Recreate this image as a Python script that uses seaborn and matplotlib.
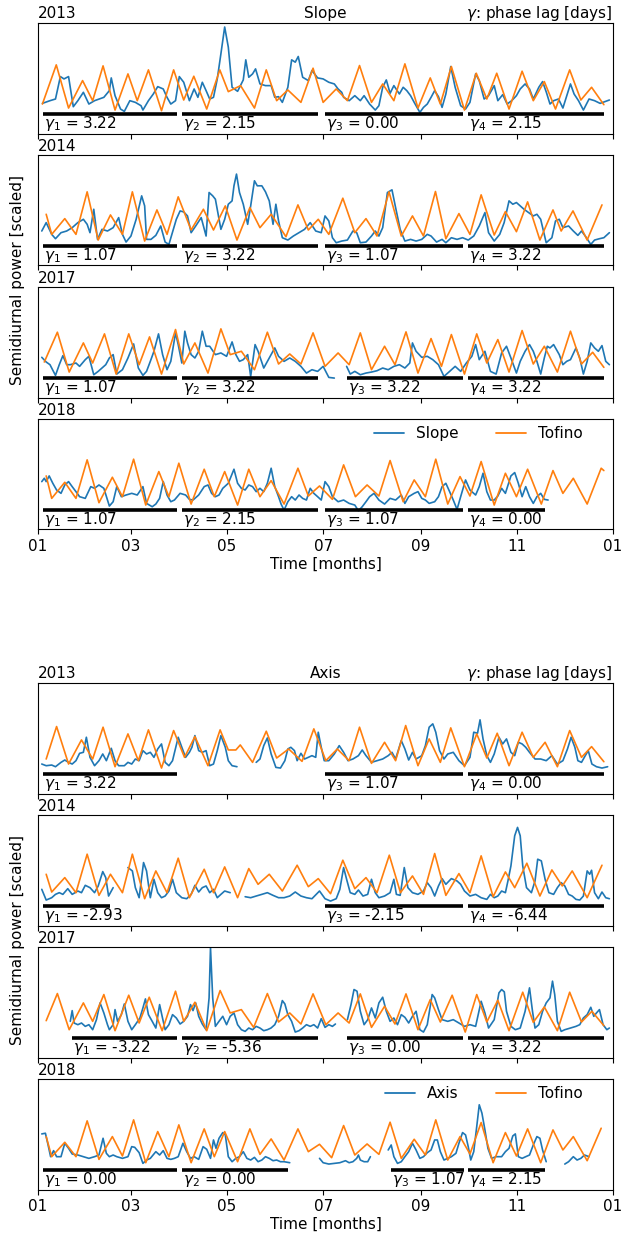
import numpy as np
import pandas as pd
import matplotlib
matplotlib.use("Agg")
import matplotlib.pyplot as plt
from matplotlib.lines import Line2D
import seaborn as sns

sns.set_style("ticks")
plt.rcParams.update({
    "font.family": ["DejaVu Sans"],
    "font.size": 11,
    "axes.edgecolor": "black",
    "axes.linewidth": 0.8,
    "xtick.color": "black",
    "xtick.direction": "out",
    "xtick.major.size": 3.5,
    "xtick.major.width": 0.8,
    "xtick.labelsize": 11,
    "text.color": "black",
    "axes.labelcolor": "black",
    "lines.solid_joinstyle": "round",
})

BLUE = "#1f77b4"
ORANGE = "#ff7f0e"

month_ticks = [0, 59, 120, 181, 243, 304, 365]
month_labels = ["01", "03", "05", "07", "09", "11", "01"]

# ---------------- Slope 2013 ----------------
slope2013_tofino_day = [2.8, 11.6, 19.4, 28.3, 34.7, 41.3, 48.9, 57.1, 63.0, 70.1, 78.4, 86.1, 92.5, 98.9, 107.1, 115.4, 120.8, 128.6, 137.4, 144.9, 151.5, 158.6, 166.9, 174.6, 181.0, 189.3, 196.4, 204.1, 211.7, 218.8, 225.9, 232.9, 241.2, 249.0, 255.4, 262.4, 270.7, 278.2, 284.9, 291.2, 299.0, 307.3, 314.4, 321.4, 328.5, 337.5, 344.6, 351.4, 359.2]
slope2013_tofino_val = [88, 205, 76, 158, 98, 202, 70, 178, 98, 190, 68, 190, 100, 171, 73, 190, 125, 143, 76, 190, 98, 130, 93, 195, 93, 133, 98, 203, 93, 148, 98, 208, 76, 166, 88, 200, 70, 180, 103, 180, 73, 186, 98, 155, 73, 190, 100, 138, 86]
slope2013_site_day = [2.8, 7.6, 11.1, 14.2, 16.5, 19.4, 22.4, 25.3, 28.8, 32.3, 35.9, 41.8, 45.3, 46.5, 48.9, 52.4, 54.8, 58.3, 61.8, 65.4, 66.6, 70.1, 73.2, 76.0, 79.5, 81.9, 84.3, 87.3, 89.7, 92.5, 96.1, 99.1, 101.5, 104.3, 106.7, 109.0, 111.4, 113.8, 116.1, 118.5, 120.8, 123.2, 126.7, 130.3, 131.9, 133.8, 136.2, 138.1, 140.9, 144.4, 148.0, 150.3, 152.7, 155.1, 158.6, 161.0, 163.3, 165.2, 168.0, 171.6, 173.9, 177.5, 181.0, 184.6, 188.1, 190.5, 192.8, 194.0, 197.5, 201.1, 204.6, 207.0, 210.5, 214.1, 216.4, 218.8, 221.1, 223.5, 225.9, 229.4, 231.8, 234.1, 236.5, 238.8, 242.4, 244.7, 247.1, 249.5, 251.8, 254.2, 256.5, 258.9, 262.0, 264.8, 268.3, 271.4, 274.2, 277.8, 280.1, 283.2, 286.0, 289.6, 291.9, 295.0, 297.8, 300.7, 303.7, 306.1, 309.2, 312.0, 314.4, 317.9, 320.3, 322.7, 325.0, 327.3, 330.4, 333.2, 338.0, 340.3, 343.1, 346.2, 349.8, 353.3, 356.8, 362.7]
slope2013_site_val = [90, 98, 103, 170, 163, 170, 80, 98, 123, 88, 98, 108, 128, 166, 113, 73, 66, 98, 93, 83, 70, 98, 118, 140, 133, 108, 88, 98, 170, 153, 98, 133, 108, 153, 128, 103, 108, 163, 238, 318, 258, 138, 126, 160, 220, 168, 178, 193, 148, 143, 143, 108, 110, 93, 138, 220, 213, 230, 168, 158, 188, 166, 163, 153, 148, 133, 123, 108, 98, 113, 98, 113, 88, 70, 83, 138, 160, 120, 143, 118, 138, 128, 113, 93, 63, 78, 88, 108, 128, 110, 78, 118, 200, 138, 83, 73, 93, 178, 158, 103, 113, 143, 98, 116, 88, 98, 113, 133, 148, 133, 103, 138, 155, 123, 88, 98, 103, 76, 148, 118, 98, 70, 103, 98, 90, 100]

# ---------------- Slope 2014 ----------------
slope2014_tofino_day = [5.2, 8.7, 17.0, 24.1, 31.2, 38.2, 46.0, 53.6, 59.9, 67.7, 75.5, 81.9, 89.0, 97.2, 105.0, 111.4, 118.9, 126.3, 134.5, 140.9, 148.0, 157.4, 165.0, 171.6, 177.9, 184.6, 193.5, 201.1, 208.2, 215.2, 222.8, 230.6, 237.7, 244.7, 252.3, 258.9, 267.2, 274.2, 281.3, 289.6, 296.7, 303.7, 310.8, 318.6, 326.9, 332.1, 339.6, 348.6, 358.0]
slope2014_tofino_val = [153, 93, 140, 93, 220, 76, 151, 93, 220, 73, 166, 93, 205, 106, 168, 106, 178, 76, 173, 113, 153, 86, 181, 106, 138, 93, 201, 98, 140, 88, 220, 88, 148, 88, 221, 80, 155, 93, 211, 91, 161, 101, 190, 76, 166, 103, 163, 76, 181]
slope2014_site_day = [2.4, 5.2, 8.7, 11.1, 14.6, 18.2, 21.7, 25.3, 28.8, 31.2, 33.0, 35.4, 37.8, 40.6, 44.1, 47.7, 51.2, 53.6, 55.9, 59.0, 62.3, 65.8, 67.7, 68.9, 71.7, 74.8, 77.9, 80.7, 83.1, 85.9, 87.8, 90.2, 92.5, 94.9, 97.2, 100.1, 103.6, 106.7, 108.6, 110.9, 112.6, 114.9, 116.1, 118.5, 120.8, 123.2, 124.4, 126.0, 127.9, 130.3, 133.1, 135.0, 137.4, 139.2, 142.1, 144.4, 146.8, 149.2, 151.0, 152.7, 155.1, 158.6, 162.1, 165.7, 169.2, 172.8, 176.3, 179.8, 182.2, 184.6, 186.9, 189.3, 192.8, 196.4, 199.9, 202.3, 204.6, 208.2, 211.7, 214.1, 216.4, 218.8, 221.8, 224.7, 227.0, 229.9, 232.9, 236.5, 240.0, 243.6, 247.1, 249.5, 253.0, 256.5, 258.9, 262.4, 266.0, 269.5, 273.1, 276.6, 280.1, 283.7, 286.0, 289.6, 293.1, 295.9, 299.0, 301.4, 303.7, 306.1, 308.5, 311.5, 314.4, 316.7, 319.1, 322.6, 326.2, 328.5, 330.9, 333.2, 336.8, 339.8, 342.7, 345.0, 347.4, 350.9, 353.3, 356.4, 359.2, 362.7]
slope2014_site_val = [103, 128, 93, 80, 98, 103, 113, 128, 138, 123, 98, 168, 78, 108, 103, 113, 143, 93, 70, 88, 138, 208, 178, 78, 78, 90, 118, 70, 63, 108, 138, 163, 160, 148, 98, 118, 143, 88, 218, 208, 198, 138, 108, 138, 183, 193, 238, 273, 218, 183, 123, 178, 253, 238, 238, 220, 193, 123, 183, 133, 83, 76, 88, 98, 108, 128, 103, 98, 148, 133, 83, 68, 73, 76, 103, 98, 68, 70, 88, 103, 88, 113, 218, 226, 173, 108, 73, 78, 73, 78, 93, 88, 70, 78, 68, 83, 78, 83, 76, 88, 118, 158, 98, 73, 93, 128, 193, 183, 188, 178, 168, 158, 148, 153, 138, 68, 83, 133, 138, 113, 118, 103, 90, 103, 88, 63, 76, 80, 83, 98]

# ---------------- Slope 2017 ----------------
slope2017_tofino_day = [4.0, 12.3, 19.8, 28.8, 34.7, 42.2, 49.6, 57.6, 64.2, 70.8, 78.4, 87.3, 92.5, 99.6, 107.9, 116.1, 122.0, 129.1, 137.4, 145.6, 152.7, 159.8, 166.9, 174.6, 182.2, 190.5, 197.5, 204.6, 211.7, 220.0, 226.6, 233.6, 241.2, 249.5, 256.1, 262.4, 270.7, 278.5, 284.9, 291.9, 299.0, 307.3, 314.4, 321.4, 329.7, 338.0, 345.0, 352.1, 359.2]
slope2017_tofino_val = [106, 195, 76, 163, 103, 190, 70, 190, 98, 181, 70, 203, 100, 163, 73, 205, 128, 138, 83, 195, 100, 130, 100, 193, 93, 133, 98, 193, 83, 153, 98, 196, 73, 176, 93, 188, 70, 190, 103, 173, 76, 200, 100, 153, 76, 198, 100, 135, 90]
slope2017_site_day = [2.4, 5.2, 7.6, 11.1, 13.5, 15.8, 18.2, 20.5, 24.1, 26.4, 30.0, 32.3, 35.4, 38.2, 40.6, 43.0, 45.3, 47.7, 50.0, 53.6, 57.1, 60.7, 63.7, 66.6, 68.9, 71.3, 73.6, 76.5, 79.1, 81.9, 84.3, 87.3, 89.0, 91.3, 93.2, 94.9, 97.2, 99.6, 102.0, 104.3, 106.7, 109.0, 112.6, 116.1, 119.7, 123.2, 125.6, 127.9, 130.3, 133.1, 135.0, 137.8, 139.7, 143.3, 146.8, 150.3, 152.7, 156.2, 159.8, 163.3, 166.9, 170.4, 173.9, 177.5, 181.0, 184.6, 188.1, None,
                      195.9, 198.2, 201.1, 204.6, 208.2, 211.7, 215.2, 218.8, 222.3, 225.9, 229.4, 232.9, 236.0, 237.7, 240.0, 243.6, 247.1, 250.6, 254.2, 257.7, 261.3, 264.8, 268.3, 271.9, 275.4, 277.8, 280.1, 283.7, 287.2, 290.8, 294.3, 297.4, 300.2, 303.7, 306.1, 309.2, 312.0, 314.4, 316.7, 319.1, 321.4, 323.3, 325.0, 327.3, 330.9, 333.2, 335.6, 338.0, 341.5, 343.9, 346.2, 348.6, 350.9, 353.3, 355.7, 358.0, 360.4, 362.7]
slope2017_site_val = [120, 106, 98, 66, 98, 125, 98, 98, 103, 93, 113, 123, 68, 78, 88, 98, 118, 128, 70, 83, 118, 160, 88, 66, 78, 108, 138, 190, 128, 83, 108, 193, 158, 103, 198, 163, 128, 118, 138, 198, 153, 153, 128, 133, 123, 166, 128, 108, 113, 128, 63, 158, 138, 88, 118, 148, 123, 108, 118, 108, 93, 73, 83, 78, 93, 60, 58, None,
                      93, 70, 78, 68, 73, 76, 80, 88, 83, 93, 98, 88, 103, 163, 138, 120, 123, 113, 98, 63, 78, 93, 78, 103, 123, 158, 113, 138, 78, 70, 133, 153, 118, 73, 108, 138, 158, 138, 108, 70, 118, 153, 148, 158, 128, 98, 108, 113, 148, 118, 70, 108, 163, 148, 138, 155, 108, 98]

# ---------------- Slope 2018 ----------------
slope2018_tofino_day = [5.2, 8.7, 17.0, 24.1, 31.2, 38.7, 47.2, 53.6, 60.7, 68.4, 76.7, 83.1, 89.4, 97.2, 105.5, 111.9, 118.5, 126.7, 133.8, 140.9, 148.0, 156.2, 165.0, 171.6, 178.7, 186.9, 194.0, 201.5, 208.9, 216.4, 223.5, 231.8, 238.8, 245.9, 252.5, 260.1, 267.9, 274.2, 281.3, 289.6, 296.7, 303.7, 310.8, 319.5, 326.9, 333.2, 339.8, 348.6, 357.5, 359.2]
slope2018_tofino_val = [160, 93, 141, 93, 208, 80, 156, 98, 210, 73, 173, 98, 198, 76, 180, 98, 173, 73, 180, 98, 146, 76, 183, 100, 130, 90, 193, 98, 133, 100, 206, 83, 148, 98, 210, 76, 158, 100, 203, 73, 168, 98, 180, 76, 176, 108, 153, 76, 183, 176]
slope2018_site_day = [2.4, 4.0, 5.2, 7.1, 9.4, 11.8, 14.6, 17.0, 19.4, 21.7, 24.1, 26.4, 30.0, 33.5, 35.9, 38.7, 41.8, 45.3, 47.7, 50.0, 52.9, 55.9, 59.5, 63.0, 66.6, 68.9, 72.5, 74.8, 77.2, 79.5, 81.9, 84.3, 86.6, 90.2, 93.7, 96.1, 98.4, 102.0, 105.5, 107.9, 110.2, 112.6, 114.9, 117.3, 120.8, 124.4, 126.7, 129.1, 131.5, 133.8, 136.2, 138.5, 140.9, 143.3, 145.6, 148.0, 150.3, 152.7, 154.3, 156.2, 158.6, 161.0, 163.3, 165.7, 168.0, 170.4, 172.8, 175.1, 177.5, 179.8, 182.2, 184.6, 186.9, 190.5, 194.0, 197.5, 201.1, 203.4, 205.8, 208.2, 210.5, 213.3, 216.4, 220.0, 223.5, 227.0, 230.6, 232.9, 235.3, 238.8, 241.2, 243.6, 245.9, 248.3, 251.8, 254.2, 256.5, 258.9, 261.3, 263.6, 266.0, 268.3, 271.4, 274.2, 277.8, 280.1, 282.5, 284.9, 287.2, 289.6, 291.9, 294.3, 296.7, 300.2, 302.6, 304.9, 307.3, 309.6, 312.0, 314.4, 316.7, 319.1, 321.4, 323.8]
slope2018_site_val = [143, 153, 143, 160, 138, 118, 108, 133, 143, 128, 113, 98, 93, 128, 123, 133, 123, 70, 83, 128, 98, 103, 108, 103, 128, 78, 68, 76, 93, 143, 103, 83, 88, 108, 103, 90, 88, 103, 128, 133, 108, 98, 103, 123, 138, 180, 138, 123, 118, 133, 128, 113, 123, 113, 138, 183, 128, 98, 76, 58, 83, 98, 88, 103, 93, 88, 123, 108, 98, 88, 143, 128, 98, 83, 88, 78, 73, 56, 68, 83, 98, 108, 88, 76, 93, 88, 103, 78, 98, 108, 113, 93, 88, 78, 83, 98, 128, 138, 113, 88, 60, 98, 148, 118, 103, 128, 168, 113, 88, 88, 100, 123, 108, 160, 170, 138, 98, 128, 98, 78, 98, 108, 90, 88]

# ---------------- Axis 2013 ----------------
axis2013_tofino_day = [5.2, 11.8, 19.4, 27.6, 34.7, 41.3, 48.9, 57.1, 63.7, 70.1, 78.4, 86.1, 93.0, 99.6, 107.9, 115.6, 120.8, 125.6, 128.4, 136.2, 144.9, 151.5, 159.1, 167.6, 175.1, 182.7, 190.0, 197.5, 204.1, 211.7, 220.0, 227.0, 233.4, 241.2, 248.3, 255.4, 262.0, 270.7, 278.5, 284.9, 291.5, 299.0, 307.3, 314.4, 321.9, 329.7, 337.5, 345.0, 351.4, 359.2]
axis2013_tofino_val = [103, 200, 88, 160, 103, 198, 80, 178, 98, 190, 76, 188, 108, 170, 83, 190, 130, 130, 145, 93, 186, 106, 133, 96, 193, 98, 133, 98, 198, 90, 153, 98, 203, 83, 163, 93, 196, 80, 178, 106, 180, 83, 183, 108, 153, 80, 188, 108, 140, 95]
axis2013_site_day = [2.4, 5.2, 8.7, 11.1, 14.6, 17.0, 19.4, 21.7, 24.1, 26.4, 28.8, 30.7, 33.0, 35.9, 38.7, 41.1, 43.4, 46.5, 48.9, 51.2, 54.8, 57.1, 59.5, 61.8, 64.2, 66.6, 68.9, 71.3, 73.6, 76.0, 78.4, 80.7, 83.1, 85.4, 89.0, 91.3, 93.7, 96.1, 97.7, 99.6, 102.0, 104.3, 106.7, 109.0, 111.4, 113.8, 116.1, 118.9, 120.8, 123.2, 126.3, None,
                     138.5, 140.9, 143.3, 145.6, 148.0, 151.0, 153.9, 156.7, 158.6, 160.5, 162.8, 164.5, 166.9, 169.2, 171.6, 173.9, 176.3, 177.9, 179.8, 181.7, 184.6, 188.1, 191.2, 194.0, 196.8, 199.9, 203.4, 205.8, 208.2, 211.7, 215.2, 218.8, 222.3, 224.7, 227.0, 230.6, 232.9, 235.3, 237.7, 240.0, 243.6, 245.9, 248.3, 250.6, 252.5, 254.9, 257.7, 260.1, 263.6, 267.2, 270.7, 274.2, 276.6, 279.0, 280.6, 282.5, 284.9, 287.2, 289.6, 292.6, 295.0, 297.4, 300.2, 302.6, 304.9, 307.3, 309.6, 312.0, 315.5, 319.1, 322.6, 326.2, 329.7, 333.2, 336.1, 338.4, 340.8, 342.7, 345.0, 347.4, 349.3, 351.6, 354.5, 358.0, 361.6]
axis2013_site_val = [88, 83, 85, 80, 93, 100, 93, 88, 98, 120, 123, 168, 108, 83, 98, 118, 98, 135, 98, 83, 83, 93, 88, 103, 98, 128, 118, 123, 108, 133, 148, 93, 83, 98, 168, 138, 108, 123, 138, 173, 128, 123, 128, 83, 88, 128, 173, 138, 98, 83, 80, None,
                     93, 103, 143, 166, 118, 78, 76, 98, 133, 138, 128, 98, 120, 103, 108, 113, 108, 183, 138, 98, 98, 118, 143, 123, 98, 103, 113, 130, 113, 93, 98, 103, 113, 123, 103, 158, 133, 100, 123, 103, 113, 143, 198, 208, 183, 128, 103, 118, 123, 98, 83, 108, 183, 180, 220, 163, 113, 93, 118, 168, 148, 163, 123, 113, 153, 148, 138, 123, 103, 103, 98, 113, 88, 98, 133, 168, 138, 98, 93, 113, 128, 88, 80, 76, 80]

# ---------------- Axis 2014 ----------------
axis2014_tofino_day = [5.2, 8.7, 17.0, 24.1, 31.2, 38.7, 46.0, 53.6, 59.9, 67.7, 74.8, 81.9, 89.0, 96.1, 105.5, 111.4, 118.5, 126.7, 133.8, 139.7, 146.8, 155.1, 164.5, 171.6, 177.9, 185.7, 193.5, 201.1, 208.2, 215.2, 223.0, 230.1, 237.7, 244.7, 251.8, 258.9, 267.2, 274.2, 281.3, 288.9, 296.7, 302.6, 310.3, 318.6, 326.2, 332.8, 339.1, 348.6, 358.0]
axis2014_tofino_val = [153, 100, 143, 98, 213, 90, 153, 98, 213, 80, 163, 98, 201, 83, 168, 98, 175, 83, 170, 123, 153, 103, 180, 116, 140, 95, 195, 110, 143, 98, 210, 98, 148, 93, 215, 90, 155, 98, 208, 86, 160, 113, 186, 88, 166, 118, 163, 83, 180]
axis2014_site_day = [2.4, 5.2, 8.7, 11.1, 13.5, 15.8, 18.9, 21.7, 25.3, 27.6, 30.0, 33.0, 35.9, 38.2, 41.1, 43.0, 44.8, 47.7, None,
                     57.1, 59.9, 61.8, 64.2, 67.0, 68.9, 71.3, 73.6, 76.0, 78.4, 80.7, 83.1, 85.4, 87.8, 91.3, 94.4, 97.2, 99.6, 102.0, 104.3, 106.7, 109.0, 111.4, 113.8, 116.1, 118.5, 122.0, None,
                     131.5, 135.0, 138.5, 142.1, 145.6, 149.2, 152.7, 156.2, 159.8, 163.3, 166.9, 170.4, 173.9, 178.7, 182.2, 185.7, 189.3, 191.6, 194.0, 195.9, 198.2, 201.1, 203.4, 206.3, 209.3, 211.7, 214.1, 216.4, 220.0, 223.5, 225.9, 227.5, 229.9, 232.5, 234.8, 237.7, 241.2, 244.7, 247.1, 249.5, 251.8, 254.2, 256.5, 258.9, 262.4, 266.0, 268.3, 270.7, 274.2, 277.8, 281.3, 284.9, 287.2, 289.6, 291.9, 294.3, 296.7, 298.3, 300.2, 302.6, 304.4, 306.1, 307.7, 310.1, 313.2, 315.5, 317.2, 319.5, 321.9, 324.3, 327.3, 329.7, 332.1, 334.4, 336.8, 339.1, 341.5, 343.9, 346.2, 348.6, 350.2, 351.4, 353.3, 355.7, 358.0, 360.4, 362.7]
axis2014_site_val = [108, 76, 83, 93, 98, 93, 110, 93, 103, 98, 120, 113, 98, 118, 161, 143, 88, 113, None,
                     173, 163, 113, 83, 188, 163, 83, 138, 98, 83, 88, 103, 138, 98, 83, 80, 93, 120, 100, 113, 118, 98, 108, 83, 93, 103, 98, None,
                     86, 83, 88, 93, 98, 90, 83, 83, 88, 100, 88, 83, 80, 103, 80, 73, 80, 108, 173, 138, 98, 93, 106, 88, 93, 138, 98, 83, 88, 98, 138, 93, 90, 173, 113, 98, 93, 103, 128, 113, 88, 118, 140, 123, 140, 133, 123, 103, 88, 93, 83, 78, 93, 83, 88, 103, 98, 133, 178, 268, 293, 268, 178, 113, 98, 133, 198, 193, 138, 98, 93, 113, 128, 118, 93, 88, 78, 76, 88, 163, 153, 165, 98, 80, 100, 83, 80]

# ---------------- Axis 2017 ----------------
axis2017_tofino_day = [5.2, 12.3, 19.8, 28.8, 34.7, 41.8, 48.9, 57.6, 64.2, 70.6, 78.8, 87.3, 92.5, 99.6, 107.1, 115.6, 122.0, 129.1, 136.9, 145.6, 152.7, 159.8, 166.9, 174.6, 182.7, 190.5, 197.5, 204.6, 211.7, 220.0, 226.6, 233.6, 241.2, 249.0, 255.4, 262.9, 271.2, 278.5, 284.9, 291.9, 299.0, 307.7, 314.4, 321.4, 329.7, 337.5, 345.0, 351.6, 359.2]
axis2017_tofino_val = [110, 191, 83, 163, 108, 188, 80, 186, 103, 180, 80, 198, 108, 165, 80, 200, 133, 143, 90, 191, 106, 133, 100, 190, 98, 133, 103, 190, 90, 153, 100, 190, 83, 173, 106, 186, 76, 188, 106, 171, 80, 195, 105, 151, 80, 195, 106, 138, 95]
axis2017_site_day = [20.5, 21.7, 22.9, 25.3, 27.6, 30.0, 32.3, 34.7, 37.1, 39.4, 41.8, 44.1, 45.3, 47.7, 48.9, 50.5, 52.9, 54.8, 57.1, 59.5, 61.8, 64.7, 66.6, 68.2, 70.1, 72.5, 74.8, 77.2, 78.8, 80.7, 83.1, 85.4, 87.8, 90.2, 92.5, 94.9, 96.8, 98.4, 100.1, 102.0, 104.3, 106.7, 108.6, 109.5, 110.9, 112.6, 114.9, 117.3, 119.7, 122.0, 124.4, 126.7, 129.1, 131.5, 133.8, 136.2, 138.5, 140.9, 143.3, 145.6, 147.9, 150.3, 152.7, 155.1, 156.7, 158.6, 161.0, 163.3, 165.7, 168.0, 170.4, 172.8, 175.1, 177.5, 179.8, 182.2, 184.6, 186.9, 188.8, None,
                     196.4, 198.7, 200.6, 202.5, 204.6, 207.0, 209.3, 211.7, 214.1, 216.4, 218.8, 221.1, 223.5, 225.9, 228.2, 230.6, 232.9, 235.3, 237.7, 240.0, 242.4, 244.7, 247.1, 250.2, 251.8, 254.2, 256.5, 260.1, 263.6, 267.2, 270.7, 274.2, 277.8, 281.3, 283.7, 286.0, 289.6, 292.6, 294.3, 296.0, 297.4, 300.2, 303.0, 306.1, 309.2, 312.0, 313.9, 315.5, 317.9, 320.3, 322.6, 325.0, 326.6, 328.0, 329.7, 332.1, 334.4, 338.0, 341.5, 343.9, 346.2, 348.6, 350.9, 352.8, 354.5, 356.4, 358.7, 361.1, 362.7]
axis2017_site_val = [108, 140, 103, 98, 103, 93, 98, 83, 113, 163, 133, 98, 83, 98, 143, 108, 128, 160, 108, 83, 98, 118, 148, 175, 128, 108, 88, 158, 123, 83, 98, 128, 118, 100, 108, 123, 158, 140, 163, 123, 100, 83, 178, 328, 178, 93, 108, 123, 98, 123, 133, 98, 83, 78, 88, 83, 93, 88, 80, 83, 88, 98, 123, 170, 160, 128, 108, 76, 80, 88, 98, 93, 98, 88, 116, 90, 98, 93, 100, None,
                     113, 158, 203, 198, 138, 98, 113, 148, 118, 163, 180, 138, 108, 118, 98, 128, 120, 103, 123, 138, 83, 76, 98, 188, 178, 143, 113, 108, 113, 103, 93, 98, 93, 168, 133, 88, 113, 193, 203, 196, 138, 93, 83, 88, 138, 208, 138, 88, 98, 138, 163, 178, 228, 188, 108, 78, 83, 88, 93, 98, 118, 128, 150, 123, 133, 143, 98, 83, 88]

# ---------------- Axis 2018 ----------------
axis2018_tofino_day = [5.2, 8.7, 17.0, 24.1, 31.2, 38.7, 47.2, 53.6, 60.7, 68.4, 76.0, 83.1, 89.4, 97.2, 105.5, 111.9, 118.5, 126.7, 134.5, 140.9, 148.0, 156.2, 165.0, 171.6, 178.7, 186.4, 194.0, 201.1, 208.9, 216.4, 223.5, 230.6, 238.8, 245.9, 252.5, 260.1, 267.9, 274.2, 281.3, 288.9, 296.7, 303.7, 310.8, 319.1, 326.9, 333.2, 339.8, 348.6, 357.5]
axis2018_tofino_val = [158, 98, 141, 98, 205, 90, 158, 100, 208, 80, 173, 98, 193, 80, 181, 98, 173, 83, 181, 105, 151, 88, 181, 113, 135, 95, 191, 103, 136, 105, 201, 93, 150, 103, 208, 88, 158, 106, 200, 80, 170, 100, 181, 80, 178, 118, 158, 86, 183]
axis2018_site_day = [2.4, 4.7, 6.4, 8.0, 9.9, 11.8, 14.6, 17.0, 19.4, 21.7, 25.3, 28.8, 32.3, 35.9, 38.7, 41.3, 43.4, 45.3, 47.7, 50.0, 53.6, 57.1, 59.5, 61.4, 64.2, 66.6, 68.9, 71.3, 74.8, 77.2, 79.5, 81.9, 84.3, 86.6, 89.0, 92.0, 94.4, 96.8, 99.1, 102.0, 104.8, 107.1, 109.5, 111.4, 113.0, 114.9, 117.3, 118.9, 120.8, 123.2, 125.6, 127.9, 130.3, 132.6, 135.0, 137.4, 139.7, 142.1, 144.4, 146.8, 149.2, 151.5, 153.9, 156.2, 159.8, None,
                     178.7, 181.0, 184.6, 188.1, 191.6, 195.2, 197.5, 199.9, 202.3, 203.4, 204.6, 207.0, 209.3, 211.0, None,
                     222.3, 224.2, 225.9, 228.2, 230.6, 232.9, 235.3, 237.7, 240.0, 242.4, 244.7, 247.1, 249.5, 251.8, 253.5, 255.4, 257.7, 260.1, 262.4, 265.3, 267.2, 269.5, 271.4, 273.1, 274.7, 276.6, 278.5, 280.1, 281.8, 283.7, 285.6, 287.9, 290.8, 294.3, 296.7, 299.0, 301.4, 303.0, 304.9, 307.3, 309.6, 312.0, 314.4, 316.7, 318.6, 320.3, 322.6, None,
                     334.4, 336.8, 339.8, 342.2, 344.6, 346.9, 349.8]
axis2018_site_val = [166, 168, 133, 98, 116, 98, 98, 138, 123, 106, 103, 98, 93, 98, 103, 153, 108, 98, 103, 98, 93, 98, 128, 126, 110, 78, 88, 93, 113, 103, 116, 93, 90, 93, 98, 138, 113, 93, 98, 90, 128, 120, 93, 148, 123, 153, 170, 163, 98, 83, 93, 98, 113, 93, 88, 96, 83, 88, 98, 93, 86, 88, 83, 83, 80, None,
                     93, 80, 76, 78, 80, 86, 80, 83, 93, 103, 88, 83, 83, 98, None,
                     118, 133, 98, 78, 83, 98, 113, 138, 118, 93, 98, 110, 118, 148, 148, 113, 88, 93, 98, 108, 138, 170, 163, 128, 88, 113, 188, 253, 228, 178, 123, 93, 98, 98, 113, 123, 160, 166, 98, 93, 98, 103, 133, 158, 153, 118, 83, None,
                     76, 83, 98, 88, 93, 103, 98]

# -------- phase-lag bars (day spans) and labels --------
slope_spans = {
    2013: [(3.2, 88.2), (91.4, 177.7), (182.2, 269.8), (273.0, 359.3)],
    2014: [(3.2, 88.2), (91.4, 177.7), (182.2, 269.8), (273.0, 359.3)],
    2017: [(3.2, 88.2), (91.4, 177.7), (196.2, 269.8), (273.0, 359.3)],
    2018: [(3.2, 88.2), (91.4, 177.7), (182.2, 269.8), (273.0, 321.8)],
}
slope_gamma = {
    2013: ["3.22", "2.15", "0.00", "2.15"],
    2014: ["1.07", "3.22", "1.07", "3.22"],
    2017: ["1.07", "3.22", "3.22", "3.22"],
    2018: ["1.07", "2.15", "1.07", "0.00"],
}
axis_spans = {
    2013: [(3.2, 88.2), None, (182.2, 269.8), (273.0, 359.3)],
    2014: [(3.2, 45.7), None, (182.2, 269.8), (273.0, 359.3)],
    2017: [(21.5, 88.2), (91.4, 177.7), (196.2, 269.8), (273.0, 359.3)],
    2018: [(3.2, 88.2), (91.4, 158.7), (224.1, 270.4), (273.0, 321.8)],
}
axis_gamma = {
    2013: ["3.22", None, "1.07", "0.00"],
    2014: ["-2.93", None, "-2.15", "-6.44"],
    2017: ["-3.22", "-5.36", "0.00", "3.22"],
    2018: ["0.00", "0.00", "1.07", "2.15"],
}

years = [2013, 2014, 2017, 2018]
slope_data = {
    2013: (slope2013_site_day, slope2013_site_val, slope2013_tofino_day, slope2013_tofino_val),
    2014: (slope2014_site_day, slope2014_site_val, slope2014_tofino_day, slope2014_tofino_val),
    2017: (slope2017_site_day, slope2017_site_val, slope2017_tofino_day, slope2017_tofino_val),
    2018: (slope2018_site_day, slope2018_site_val, slope2018_tofino_day, slope2018_tofino_val),
}
axis_data = {
    2013: (axis2013_site_day, axis2013_site_val, axis2013_tofino_day, axis2013_tofino_val),
    2014: (axis2014_site_day, axis2014_site_val, axis2014_tofino_day, axis2014_tofino_val),
    2017: (axis2017_site_day, axis2017_site_val, axis2017_tofino_day, axis2017_tofino_val),
    2018: (axis2018_site_day, axis2018_site_val, axis2018_tofino_day, axis2018_tofino_val),
}


def to_frame(days, vals):
    rows, seg = [], 0
    for d, v in zip(days, vals):
        if d is None or v is None:
            seg += 1
            continue
        rows.append((d, v, seg))
    return pd.DataFrame(rows, columns=["day", "val", "seg"])


W, H = 621, 1234
fig = plt.figure(figsize=(W / 100, H / 100), dpi=100)
LEFT, AXW, AXH = 38, 575, 110.5


def make_axes(top):
    return fig.add_axes([LEFT / W, 1 - (top + AXH) / H, AXW / W, AXH / H])


def draw_group(tops, site, data, spans, gammas):
    for i, (yr, top) in enumerate(zip(years, tops)):
        ax = make_axes(top)
        sd, sv, td, tv = data[yr]
        sdf = to_frame(sd, sv)
        tdf = to_frame(td, tv)
        for _, g in sdf.groupby("seg"):
            sns.lineplot(data=g, x="day", y="val", ax=ax, color=BLUE, lw=1.2,
                         estimator=None, sort=False)
        sns.lineplot(data=tdf, x="day", y="val", ax=ax, color=ORANGE, lw=1.2,
                     estimator=None, sort=False)
        for k, (sp, gm) in enumerate(zip(spans[yr], gammas[yr])):
            if sp is None:
                continue
            ax.hlines(57, sp[0], sp[1], color="black", lw=2.6)
            ax.text(sp[0] + 0.5, 30, f"$\\gamma_{k + 1}$ = {gm}", ha="left",
                    va="center", fontsize=11)
        ax.set_xlim(0, 365)
        ax.set_ylim(0, 330)
        ax.set_yticks([])
        ax.set_xticks(month_ticks)
        ax.set_ylabel("")
        ax.set_xlabel("")
        ax.set_title(str(yr), loc="left", fontsize=11, pad=3)
        if i == 0:
            ax.set_title(site, loc="center", fontsize=11, pad=3)
            ax.set_title("$\\gamma$: phase lag [days]", loc="right", fontsize=11, pad=3)
        if i == len(years) - 1:
            ax.set_xticklabels(month_labels)
            ax.set_xlabel("Time [months]", fontsize=11, labelpad=2)
            handles = [Line2D([], [], color=BLUE, lw=1.3),
                       Line2D([], [], color=ORANGE, lw=1.3)]
            ax.legend(handles, [site, "Tofino"], loc="upper right", ncol=2,
                      frameon=False, fontsize=11, columnspacing=2.4,
                      bbox_to_anchor=(0.972, 1.06))
        else:
            ax.tick_params(labelbottom=False)
        for s in ax.spines.values():
            s.set_visible(True)
            s.set_color("black")
            s.set_linewidth(0.8)


draw_group([23, 155, 287, 419], "Slope", slope_data, slope_spans, slope_gamma)
draw_group([683, 815, 947, 1079], "Axis", axis_data, axis_spans, axis_gamma)

fig.text(18 / W, 1 - 280 / H, "Semidiurnal power [scaled]", rotation=90,
         ha="center", va="center", fontsize=11)
fig.text(18 / W, 1 - 940 / H, "Semidiurnal power [scaled]", rotation=90,
         ha="center", va="center", fontsize=11)

fig.savefig("out.png", dpi=100)
